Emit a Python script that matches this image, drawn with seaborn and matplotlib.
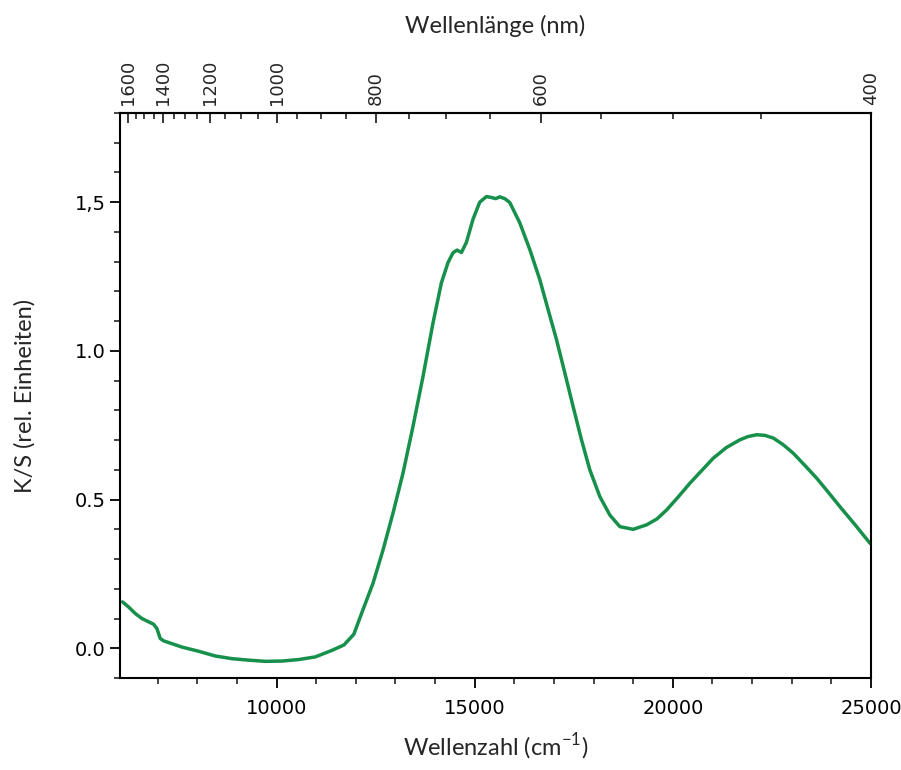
import numpy as np
import pandas as pd
import matplotlib
matplotlib.use("Agg")
import matplotlib.pyplot as plt
from matplotlib.ticker import FixedLocator, MultipleLocator, FixedFormatter
import seaborn as sns

# data (wavenumber cm^-1, K/S)
wavenumber = [6113, 6265, 6434, 6603, 6770, 6896, 6982, 7065, 7149, 7613, 8032, 8454,
              8875, 9295, 9716, 10138, 10557, 10979, 11400, 11700, 11950,
              12190, 12433, 12686, 12938, 13191, 13443, 13696, 13948, 14160,
              14327, 14453, 14554, 14665, 14791, 14958, 15127, 15296, 15420, 15531,
              15632, 15760, 15885, 16137, 16390, 16642, 16852, 17064, 17274, 17483,
              17695, 17905, 18158, 18410, 18663, 18998, 19337, 19600, 19842, 20130,
              20430, 21018, 21350, 21692, 21900, 22113, 22320, 22533, 22780, 23038,
              23330, 23629, 23920, 24217, 24600, 24975]
ks = [0.156, 0.139, 0.117, 0.100, 0.089, 0.081, 0.066, 0.033, 0.025, 0.004, -0.010, -0.026,
      -0.035, -0.040, -0.044, -0.043, -0.038, -0.029, -0.007, 0.011, 0.047,
      0.133, 0.218, 0.330, 0.454, 0.589, 0.746, 0.914, 1.094, 1.229,
      1.297, 1.330, 1.339, 1.331, 1.365, 1.443, 1.500, 1.519, 1.516, 1.512,
      1.518, 1.512, 1.499, 1.431, 1.341, 1.240, 1.139, 1.038, 0.926, 0.813,
      0.701, 0.600, 0.510, 0.448, 0.409, 0.400, 0.415, 0.435, 0.465, 0.508,
      0.555, 0.639, 0.675, 0.701, 0.712, 0.718, 0.716, 0.707, 0.685, 0.656,
      0.615, 0.572, 0.525, 0.476, 0.415, 0.353]

x_major = [10000, 15000, 20000, 25000]
x_labels = ["10000", "15000", "20000", "25000"]
y_major = [0.0, 0.5, 1.0, 1.5]
y_labels = ["0.0", "0.5", "1.0", "1,5"]
nm_major = [400, 600, 800, 1000, 1200, 1400, 1600]
nm_labels = ["400", "600", "800", "1000", "1200", "1400", "1600"]

df = pd.DataFrame({"wn": wavenumber, "ks": ks})

sns.set_style("ticks")
plt.rcParams["font.family"] = ["DejaVu Sans"]

fig = plt.figure(figsize=(9.01, 7.70), dpi=100)
ax = fig.add_axes([120/901, 1-678/770, 751/901, 565/770])

sns.lineplot(data=df, x="wn", y="ks", ax=ax, color="#16904a", linewidth=2.5)

ax.set_xlim(6050, 25000)
ax.set_ylim(-0.1, 1.8)

ax.xaxis.set_major_locator(FixedLocator(x_major))
ax.xaxis.set_major_formatter(FixedFormatter(x_labels))
ax.xaxis.set_minor_locator(MultipleLocator(1000))
ax.yaxis.set_major_locator(FixedLocator(y_major))
ax.yaxis.set_major_formatter(FixedFormatter(y_labels))
ax.yaxis.set_minor_locator(MultipleLocator(0.1))

for s in ax.spines.values():
    s.set_linewidth(1.5)
    s.set_color("black")

ax.tick_params(axis="both", which="major", direction="out", length=7, width=1.3,
               labelsize=14, colors="black")
ax.tick_params(axis="both", which="minor", direction="out", length=4, width=1.2)
ax.tick_params(axis="x", pad=8)

lab_font = dict(family="Lato", size=17)
ax.set_xlabel("Wellenzahl (cm$^{\\mathregular{-1}}$)", labelpad=10, **lab_font)
ax.set_ylabel("K/S (rel. Einheiten)", labelpad=28, **lab_font)

top = ax.secondary_xaxis("top", functions=(lambda v: 1e7/np.asarray(v, dtype=float),
                                           lambda w: 1e7/np.asarray(w, dtype=float)))
top.xaxis.set_major_locator(FixedLocator(nm_major))
top.xaxis.set_major_formatter(FixedFormatter(nm_labels))
top.xaxis.set_minor_locator(FixedLocator(list(range(400, 1651, 50))))
top.tick_params(axis="x", which="major", direction="in", length=7, width=1.3,
                labelsize=13, labelrotation=90, pad=6)
top.tick_params(axis="x", which="minor", direction="in", length=4, width=1.2)
top.spines["top"].set_linewidth(1.5)
top.set_xlabel("Wellenlänge (nm)", labelpad=19, **lab_font)

fig.savefig("out.png", dpi=100, facecolor="white")
